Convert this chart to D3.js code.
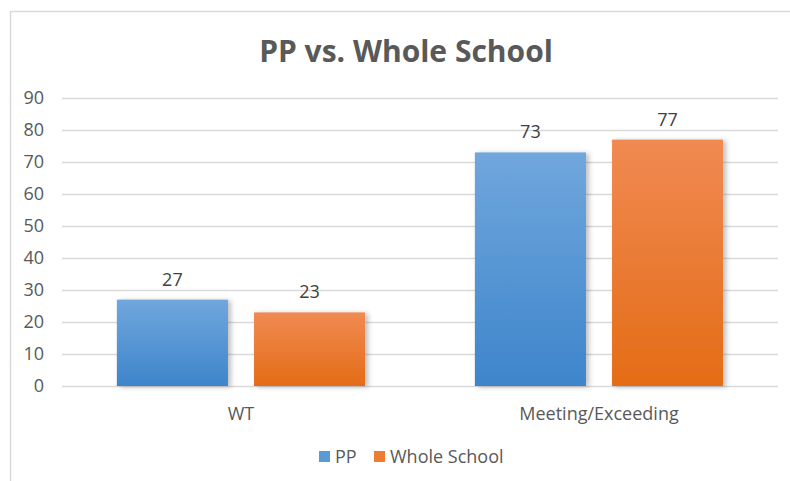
<!DOCTYPE html>
<html><head><meta charset="utf-8">
<script src="https://cdn.jsdelivr.net/npm/d3@7"></script>
<style>body{margin:0;background:#fff;} svg{display:block;}</style>
</head><body>
<script>
const categories = ["WT", "Meeting/Exceeding"];
const seriesNames = ["PP", "Whole School"];
const ppValues = [27, 73];
const wholeSchoolValues = [23, 77];
const yTicks = [0, 10, 20, 30, 40, 50, 60, 70, 80, 90];
const title = "PP vs. Whole School";

const W = 790, H = 481;
const font = "'Open Sans', 'Liberation Sans', sans-serif";
const svg = d3.select("body").append("svg").attr("width", W).attr("height", H);

const defs = svg.append("defs");
const grads = [["gBlue", "#70a7dd", "#3e85cb"], ["gOrange", "#f08a52", "#e46c16"]];
grads.forEach(([id, c1, c2]) => {
  const g = defs.append("linearGradient").attr("id", id).attr("x1", 0).attr("y1", 0).attr("x2", 0).attr("y2", 1);
  g.append("stop").attr("offset", "0%").attr("stop-color", c1);
  g.append("stop").attr("offset", "100%").attr("stop-color", c2);
});
const f = defs.append("filter").attr("id", "shadow").attr("x", "-20%").attr("y", "-20%").attr("width", "150%").attr("height", "150%");
f.append("feDropShadow").attr("dx", 3).attr("dy", 1).attr("stdDeviation", 2.5).attr("flood-color", "#000").attr("flood-opacity", 0.25);

// chart frame
svg.append("rect").attr("x", 10.5).attr("y", 11.5).attr("width", 800).attr("height", 500)
  .attr("fill", "#fff").attr("stroke", "#d9d9d9").attr("stroke-width", 1.5);

const plot = {left: 62, right: 778, top: 98, bottom: 386};
const x0 = d3.scaleBand().domain(categories).range([plot.left, plot.right]);
const x1 = d3.scaleBand().domain(seriesNames).range([0, x0.bandwidth()]).paddingInner(0.19).paddingOuter(0.4);
const y = d3.scaleLinear().domain([0, 90]).range([plot.bottom, plot.top]);

// gridlines
svg.append("g").selectAll("line").data(yTicks).join("line")
  .attr("x1", plot.left).attr("x2", plot.right)
  .attr("y1", d => Math.round(y(d)) + 0.5).attr("y2", d => Math.round(y(d)) + 0.5)
  .attr("stroke", "#d9d9d9").attr("stroke-width", 1.5);

// y axis
const yAxis = svg.append("g").attr("transform", `translate(${plot.left},0)`)
  .call(d3.axisLeft(y).tickValues(yTicks).tickSize(0).tickPadding(18));
yAxis.select(".domain").remove();
yAxis.selectAll("text").attr("fill", "#595959").style("font-family", font).style("font-size", "18px");

// bars
const data = categories.map((c, i) => ({cat: c, vals: [ppValues[i], wholeSchoolValues[i]]}));
const fills = ["url(#gBlue)", "url(#gOrange)"];
const grp = svg.append("g").selectAll("g").data(data).join("g")
  .attr("transform", d => `translate(${x0(d.cat)},0)`);
grp.selectAll("rect").data(d => d.vals.map((v, j) => ({s: seriesNames[j], v, j}))).join("rect")
  .attr("x", d => x1(d.s)).attr("width", x1.bandwidth())
  .attr("y", d => y(d.v)).attr("height", d => y(0) - y(d.v))
  .attr("fill", d => fills[d.j]).attr("filter", "url(#shadow)");
grp.selectAll("text").data(d => d.vals.map((v, j) => ({s: seriesNames[j], v, j}))).join("text")
  .attr("x", d => x1(d.s) + x1.bandwidth() / 2).attr("y", d => y(d.v) - 14)
  .attr("text-anchor", "middle").attr("fill", "#404040")
  .style("font-family", font).style("font-size", "18px").text(d => d.v);

// x axis labels
svg.append("g").selectAll("text").data(categories).join("text")
  .attr("x", d => x0(d) + x0.bandwidth() / 2).attr("y", 420)
  .attr("text-anchor", "middle").attr("fill", "#595959")
  .style("font-family", font).style("font-size", "18px").text(d => d);

// title
svg.append("text").attr("x", 406).attr("y", 62).attr("text-anchor", "middle")
  .attr("fill", "#595959").style("font-family", font).style("font-size", "30px").style("font-weight", "bold")
  .text(title);

// legend
const legendColors = ["#5b9bd5", "#ed7d31"];
const legendX = [319, 374];
const lg = svg.append("g").selectAll("g").data(seriesNames).join("g")
  .attr("transform", (d, i) => `translate(${legendX[i]},451)`);
lg.append("rect").attr("width", 11).attr("height", 11).attr("fill", (d, i) => legendColors[i]);
lg.append("text").attr("x", 16).attr("y", 12).attr("fill", "#595959")
  .style("font-family", font).style("font-size", "18px").text(d => d);
</script>
</body></html>
